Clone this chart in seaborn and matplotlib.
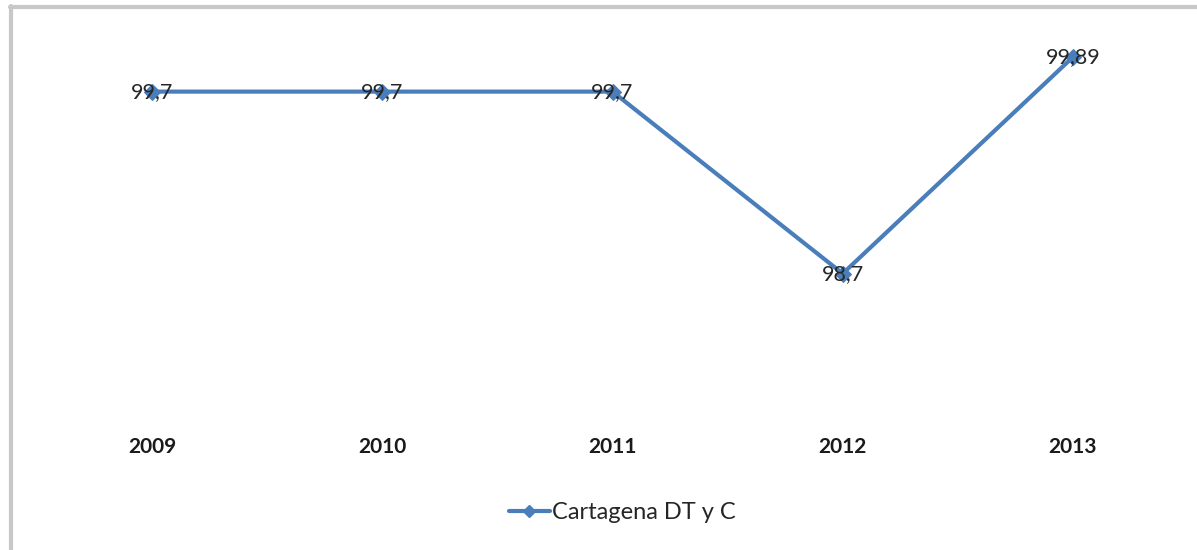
import matplotlib
matplotlib.use("Agg")
import matplotlib.pyplot as plt
import seaborn as sns
import pandas as pd
from matplotlib.lines import Line2D

years = ["2009", "2010", "2011", "2012", "2013"]
values = [99.7, 99.7, 99.7, 98.7, 99.89]
labels = ["99,7", "99,7", "99,7", "98,7", "99,89"]
series_name = "Cartagena DT y C"

sns.set_theme(style="white")
plt.rcParams['font.family'] = ['Lato', 'DejaVu Sans']

df = pd.DataFrame({"year": years, "value": values, "series": series_name})

fig = plt.figure(figsize=(11.97, 5.50), dpi=100)
ax = fig.add_axes([0.0309, 0.2709, 0.9616, 0.6618])
color = "#4a7ebb"
sns.lineplot(data=df, x="year", y="value", hue="series", palette=[color],
             marker="D", markersize=8, linewidth=3, ax=ax, sort=False,
             markeredgecolor=color, legend=False)
ax.set_xlim(-0.5, 4.5)
ax.set_ylim(98.0, 100.0)
for i, (v, t) in enumerate(zip(values, labels)):
    ax.text(i, v, t, ha="center", va="center", fontsize=15.5, color="#262626")
ax.set_yticks([])
ax.set_xlabel("")
ax.set_ylabel("")
ax.tick_params(axis="x", length=0, pad=26, labelsize=15)
for lab in ax.get_xticklabels():
    lab.set_fontweight("bold")
    lab.set_color("#1a1a1a")
for s in ax.spines.values():
    s.set_visible(False)

handle = Line2D([], [], color=color, marker="D", markersize=6, linewidth=3)
fig.legend([handle], [series_name], loc="center", bbox_to_anchor=(0.52, 0.068),
           frameon=False, fontsize=17, handlelength=1.75, handletextpad=0.1,
           labelcolor="#262626")

fig.add_artist(Line2D([0.008, 1.0], [0.987, 0.987], color="#c8c8c8", linewidth=3,
                      transform=fig.transFigure))
fig.add_artist(Line2D([0.009, 0.009], [0.0, 0.989], color="#c8c8c8", linewidth=3,
                      transform=fig.transFigure))

fig.savefig("out.png", dpi=100, facecolor="white")
